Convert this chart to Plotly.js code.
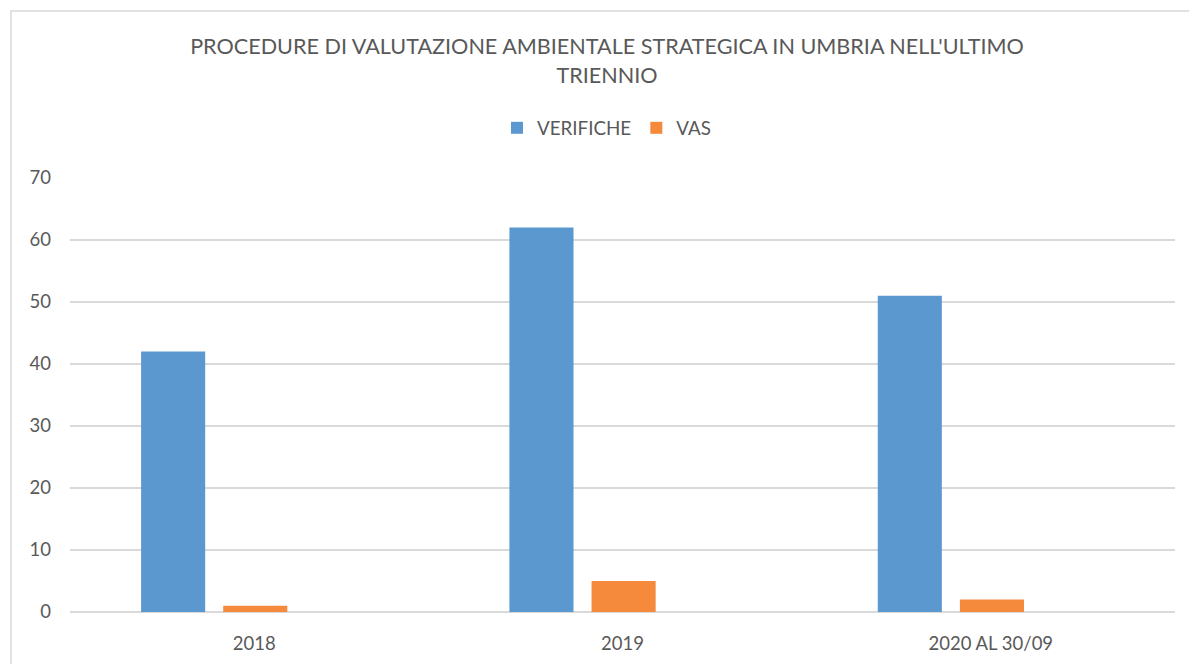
<!DOCTYPE html>
<html>
<head>
<meta charset="utf-8">
<script src="https://cdn.plot.ly/plotly-3.0.1.min.js"></script>
<style>html,body{margin:0;padding:0;background:#fff;}#chart{width:1189px;height:664px;}</style>
</head>
<body>
<div id="chart"></div>
<script>
var categories = ["2018", "2019", "2020 AL 30/09"];
var verifiche = [42, 62, 51];
var vas = [1, 5, 2];
var seriesNames = ["VERIFICHE", "VAS"];
var yTicks = [0, 10, 20, 30, 40, 50, 60, 70];

var textColor = "#595959";
var fontFamily = "Lato, 'Open Sans', sans-serif";

var traces = [
  {type: "bar", name: seriesNames[0], x: categories, y: verifiche,
   marker: {color: "#5B98D0"}, width: 0.174, offset: -0.307, hoverinfo: "y"},
  {type: "bar", name: seriesNames[1], x: categories, y: vas,
   marker: {color: "#F5893C"}, width: 0.174, offset: -0.084, hoverinfo: "y"}
];

var layout = {
  width: 1189, height: 664,
  margin: {l: 70, r: 14, t: 178, b: 52},
  paper_bgcolor: "#fff", plot_bgcolor: "#fff",
  font: {family: fontFamily, color: textColor, size: 18},
  title: {
    text: "PROCEDURE DI VALUTAZIONE AMBIENTALE STRATEGICA IN UMBRIA NELL'ULTIMO<br>TRIENNIO",
    x: 0.5105, xref: "container", xanchor: "center",
    y: 0.918, yref: "container", yanchor: "top",
    font: {family: fontFamily, size: 21.6, color: textColor}
  },
  barmode: "overlay",
  showlegend: true,
  legend: {orientation: "h", x: 0.4855, xref: "paper", xanchor: "center", y: 1.115, yanchor: "middle",
           font: {family: fontFamily, size: 18.8, color: textColor}},
  xaxis: {type: "category", showgrid: false, zeroline: false, showline: false, ticks: "",
          ticklabelstandoff: 18, tickfont: {size: 18.5, color: textColor}},
  yaxis: {range: [0, 70], tickvals: yTicks, showgrid: true, gridcolor: "#D9D9D9", gridwidth: 2,
          zeroline: true, zerolinecolor: "#D9D9D9", zerolinewidth: 2, showline: false, ticks: "",
          ticklabelstandoff: 18, tickfont: {size: 18.5, color: textColor}},
  shapes: [
    {type: "rect", xref: "paper", yref: "paper",
     x0: (11 - 70) / 1105, x1: (1200 - 70) / 1105,
     y0: -(680 - 612) / 434, y1: (612 - 11) / 434,
     line: {color: "#D9D9D9", width: 1.5}, fillcolor: "rgba(0,0,0,0)", layer: "below"}
  ]
};

Plotly.newPlot("chart", traces, layout, {displayModeBar: false, staticPlot: true});
</script>
</body>
</html>
